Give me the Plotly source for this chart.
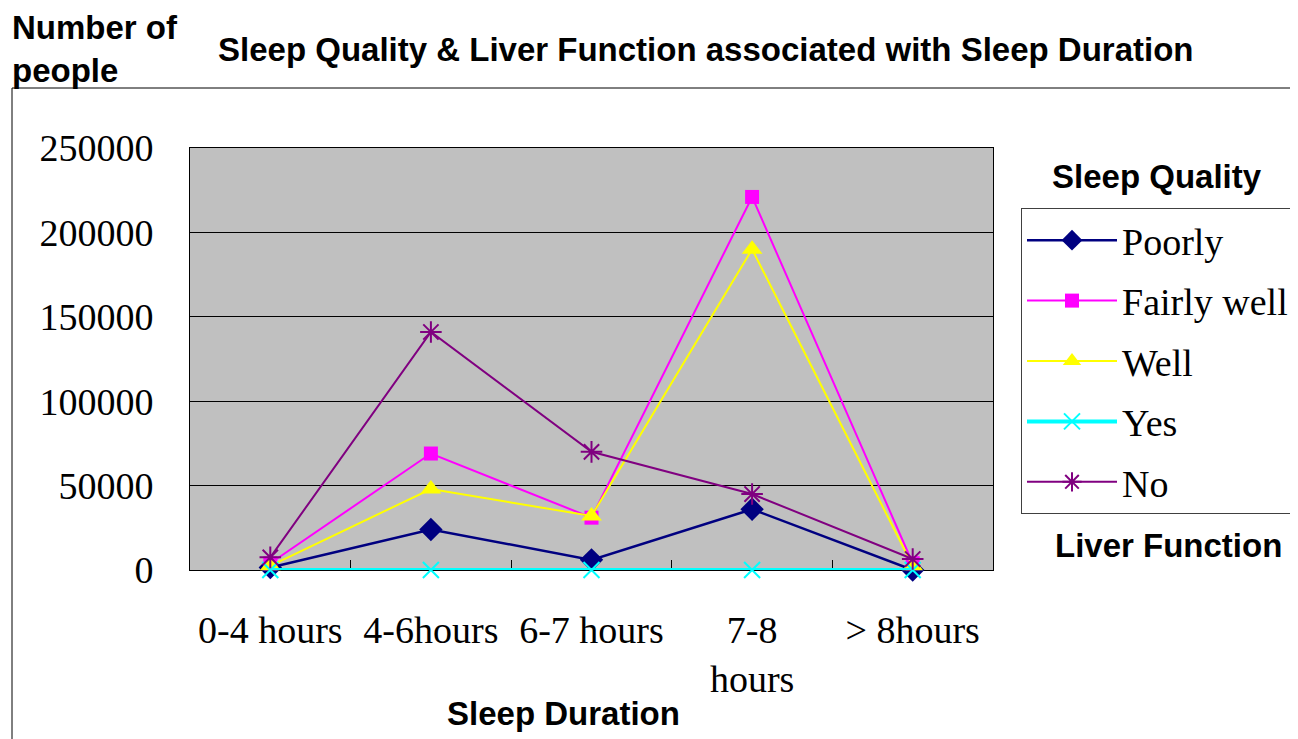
import plotly.graph_objects as go

categories = ["0-4 hours", "4-6hours", "6-7 hours", "7-8<br>hours", "> 8hours"]
poorly = [1500, 24000, 6000, 36000, 0]
fairly_well = [4000, 69000, 31000, 221000, 4000]
well = [2500, 48000, 32000, 190000, 2500]
yes = [0, 0, 0, 0, 0]
no = [7500, 141000, 70000, 45000, 6500]

y_ticks = [0, 50000, 100000, 150000, 200000, 250000]

series = [
    ("Poorly", poorly, "#000080", "diamond", 18, 0, 2.5),
    ("Fairly well", fairly_well, "#FF00FF", "square", 14, 0, 2),
    ("Well", well, "#FFFF00", "triangle-up", 18, 0, 2),
    ("Yes", yes, "#00FFFF", "x-thin-open", 16, 2, 4),
    ("No", no, "#800080", "asterisk-open", 18, 2, 2),
]

fig = go.Figure()
for i, (name, vals, color, sym, size, mlw, lw) in enumerate(series):
    fig.add_trace(go.Scatter(
        x=categories, y=vals, name=name, mode="lines+markers",
        line=dict(color=color, width=lw),
        marker=dict(symbol=sym, size=size, color=color,
                    line=dict(color=color, width=mlw)),
        cliponaxis=False, legendgroup=f"g{i}",
    ))

serif = "Liberation Serif, Times New Roman, serif"
sans = "Liberation Sans, Arial, sans-serif"

fig.update_layout(
    width=1290, height=731,
    margin=dict(l=182, r=305, t=140, b=169, autoexpand=False),
    paper_bgcolor="white", plot_bgcolor="#C0C0C0",
    showlegend=True,
    legend=dict(x=(1021 - 190) / 803, y=(570 - 208) / 422, xanchor="left", yanchor="top",
                font=dict(family=serif, size=38, color="black"),
                bordercolor="#404040", borderwidth=1, bgcolor="white",
                tracegroupgap=8, itemwidth=90),
    xaxis=dict(type="category", range=[-0.5, 4.5], tickson="boundaries",
               ticks="inside", ticklen=10, tickcolor="black", tickwidth=1,
               showgrid=False, showline=True, linecolor="black", mirror=True,
               layer="below traces", automargin=False,
               tickfont=dict(family=serif, size=38, color="black"),
               ticklabelstandoff=26),
    yaxis=dict(range=[0, 250000], tickvals=y_ticks,
               ticktext=[str(v) for v in y_ticks],
               showgrid=True, gridcolor="black", gridwidth=1,
               zeroline=False, showline=True, linecolor="black", mirror=True,
               layer="below traces", automargin=False,
               ticks="", tickfont=dict(family=serif, size=38, color="black"),
               ticklabelstandoff=28),
    shapes=[dict(type="rect", xref="paper", yref="paper",
                 x0=(12 - 190) / 803, x1=1.5, y0=-0.6, y1=(570 - 88) / 422,
                 line=dict(color="black", width=1), layer="below")],
    annotations=[
        dict(text="<b>Sleep Quality & Liver Function associated with Sleep Duration</b>",
             xref="paper", yref="paper", x=(706 - 190) / 803, y=(570 - 50) / 422,
             xanchor="center", yanchor="middle", showarrow=False,
             font=dict(family=sans, size=33, color="black")),
        dict(text="<b>Number of<br>people</b>", align="left",
             xref="paper", yref="paper", x=(10 - 190) / 803, y=(570 - 49) / 422,
             xanchor="left", yanchor="middle", showarrow=False,
             font=dict(family=sans, size=33, color="black")),
        dict(text="<b>Sleep Quality</b>",
             xref="paper", yref="paper", x=(1157 - 190) / 803, y=(570 - 176) / 422,
             xanchor="center", yanchor="middle", showarrow=False,
             font=dict(family=sans, size=33, color="black")),
        dict(text="<b>Liver Function</b>",
             xref="paper", yref="paper", x=(1168 - 190) / 803, y=(570 - 545) / 422,
             xanchor="center", yanchor="middle", showarrow=False,
             font=dict(family=sans, size=33, color="black")),
        dict(text="<b>Sleep Duration</b>",
             xref="paper", yref="paper", x=(563 - 190) / 803, y=(570 - 713) / 422,
             xanchor="center", yanchor="middle", showarrow=False,
             font=dict(family=sans, size=33, color="black")),
    ],
)

fig.write_html("out.html")
